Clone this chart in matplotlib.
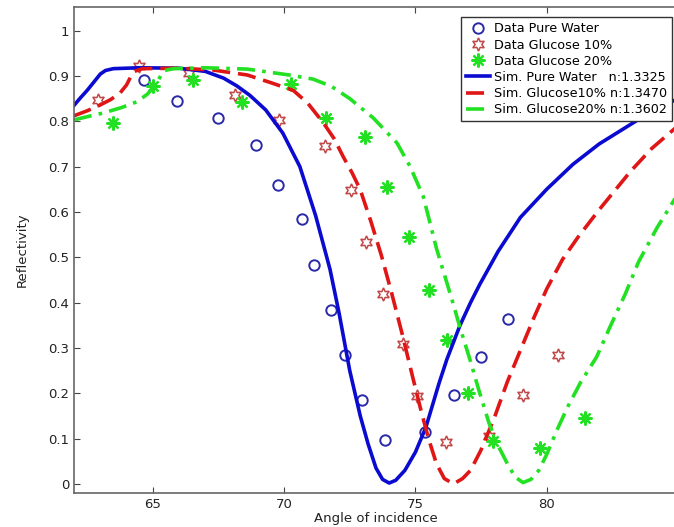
import matplotlib
matplotlib.use("Agg")
import matplotlib.pyplot as plt

# measured data points
water_x = [64.67, 65.93, 67.49, 68.92, 69.75, 70.67, 71.13, 71.78, 72.31, 72.98, 73.86, 75.38, 76.46, 77.51, 78.51]
water_y = [0.892, 0.845, 0.807, 0.748, 0.659, 0.585, 0.484, 0.384, 0.284, 0.186, 0.098, 0.115, 0.196, 0.279, 0.364]

g10_x = [62.92, 64.46, 66.37, 68.12, 69.81, 71.55, 72.56, 73.13, 73.77, 74.53, 75.06, 76.15, 77.80, 79.10, 80.42]
g10_y = [0.846, 0.922, 0.906, 0.858, 0.803, 0.746, 0.649, 0.533, 0.420, 0.309, 0.193, 0.092, 0.106, 0.197, 0.285]

g20_x = [63.47, 64.99, 66.53, 68.38, 70.28, 71.61, 73.07, 73.93, 74.75, 75.51, 76.20, 77.00, 77.95, 79.73, 81.44]
g20_y = [0.797, 0.878, 0.891, 0.843, 0.882, 0.808, 0.765, 0.654, 0.544, 0.428, 0.317, 0.201, 0.094, 0.079, 0.145]

# simulated curves
sim_w_x = [62.0, 62.25, 62.5, 62.75, 63.0, 63.2, 63.5, 64.5, 66.0, 67.0, 67.7, 68.2, 68.7, 69.3,
           69.95, 70.6, 71.2, 71.75, 72.1, 72.5, 72.9, 73.2, 73.5, 73.75, 74.0, 74.25, 74.6, 75.0,
           75.4, 75.9, 76.2, 76.7, 77.1, 77.45, 78.15, 79.0, 80.0, 81.0, 82.0, 83.0, 84.0, 85.0]
sim_w_y = [0.835, 0.852, 0.868, 0.886, 0.904, 0.912, 0.916, 0.918, 0.917, 0.91, 0.895, 0.878, 0.857, 0.825,
           0.774, 0.70, 0.592, 0.473, 0.375, 0.25, 0.15, 0.088, 0.035, 0.01, 0.002, 0.008, 0.03, 0.07,
           0.125, 0.222, 0.275, 0.35, 0.40, 0.44, 0.513, 0.588, 0.65, 0.705, 0.75, 0.786, 0.822, 0.85]

sim_10_x = [62.0, 62.5, 63.0, 63.4, 63.75, 64.0, 64.15, 64.3, 64.6, 66.0, 67.3, 68.6, 69.5, 70.35,
            70.9, 71.5, 71.9, 72.25, 72.6, 72.9, 73.3, 73.7, 74.1, 74.5, 74.9, 75.2, 75.5, 75.8,
            76.1, 76.45, 76.8, 77.1, 77.5, 78.0, 78.5, 79.0, 79.5, 80.0, 80.6, 81.2, 82.0, 83.2,
            84.0, 85.0]
sim_10_y = [0.812, 0.823, 0.836, 0.848, 0.862, 0.88, 0.897, 0.910, 0.916, 0.917, 0.913, 0.902, 0.885, 0.868,
            0.84, 0.796, 0.762, 0.722, 0.685, 0.649, 0.58, 0.505, 0.42, 0.33, 0.235, 0.165, 0.1, 0.045,
            0.012, 0.0, 0.012, 0.03, 0.075, 0.145, 0.225, 0.295, 0.365, 0.43, 0.495, 0.545, 0.605, 0.69,
            0.74, 0.79]

sim_20_x = [62.0, 62.5, 63.1, 63.8, 64.4, 64.8, 65.1, 65.3, 65.45, 65.8, 67.0, 68.6, 70.2, 71.1,
            71.8, 72.5, 73.4, 74.3, 74.8, 75.3, 75.8, 76.4, 76.7, 77.1, 77.4, 77.8, 78.1, 78.5,
            78.8, 79.1, 79.4, 79.7, 80.0, 80.4, 80.8, 81.3, 81.9, 82.4, 83.0, 83.5, 84.2, 85.0]
sim_20_y = [0.803, 0.81, 0.818, 0.83, 0.843, 0.86, 0.88, 0.90, 0.912, 0.916, 0.918, 0.915, 0.902, 0.893,
            0.877, 0.85, 0.807, 0.752, 0.70, 0.634, 0.52, 0.405, 0.345, 0.27, 0.21, 0.135, 0.09, 0.045,
            0.015, 0.003, 0.01, 0.03, 0.065, 0.12, 0.17, 0.225, 0.28, 0.345, 0.42, 0.49, 0.565, 0.64]

plt.rcParams['font.family'] = ['DejaVu Sans']
plt.rcParams['font.size'] = 9.5

fig = plt.figure(figsize=(6.74, 5.27), dpi=100)
ax = fig.add_axes([74 / 674, 34 / 527, 604 / 674, 486 / 527])

ax.plot(water_x, water_y, 'o', mfc='none', mec='#2a2aa8', mew=1.4, ms=7.5, ls='none',
        label='Data Pure Water')
ax.plot(g10_x, g10_y, marker=(6, 1, 0), mfc='none', mec='#c04848', mew=1.1, ms=9.5, ls='none',
        label='Data Glucose 10%')
ax.plot(g20_x, g20_y, marker=(8, 2, 0), color='#22e022', mew=1.6, ms=10, ls='none',
        label='Data Glucose 20%')

ax.plot(sim_w_x, sim_w_y, '-', color='#0a0ad0', lw=2.6, label='Sim. Pure Water   n:1.3325')
ax.plot(sim_10_x, sim_10_y, '--', color='#e01515', lw=2.6, dashes=(5, 2.2),
        label='Sim. Glucose10% n:1.3470')
ax.plot(sim_20_x, sim_20_y, '-.', color='#22e022', lw=2.6, dashes=(5, 2, 1, 2),
        label='Sim. Glucose20% n:1.3602')

ax.set_xlim(62, 85)
ax.set_ylim(-0.02, 1.052)
ax.set_xticks([65, 70, 75, 80])
ax.set_yticks([0, 0.1, 0.2, 0.3, 0.4, 0.5, 0.6, 0.7, 0.8, 0.9, 1])
ax.set_yticklabels(['0', '0.1', '0.2', '0.3', '0.4', '0.5', '0.6', '0.7', '0.8', '0.9', '1'])
ax.tick_params(direction='in', top=True, right=False, colors='#444444', labelcolor='#222222', length=4)
for s in ax.spines.values():
    s.set_color('#666666')
    s.set_linewidth(1.2)

ax.set_xlabel('Angle of incidence', labelpad=1, color='#222222')
ax.set_ylabel('Reflectivity', labelpad=14, color='#222222')

leg = ax.legend(loc='upper right', bbox_to_anchor=(0.99, 0.979), borderaxespad=0,
                numpoints=1, handlelength=1.9, handletextpad=0.3, labelspacing=0.25,
                fancybox=False, framealpha=1, edgecolor='#333333', fontsize=9.2, borderpad=0.4)
leg.get_frame().set_linewidth(1.0)

fig.savefig('out.png', dpi=100)
